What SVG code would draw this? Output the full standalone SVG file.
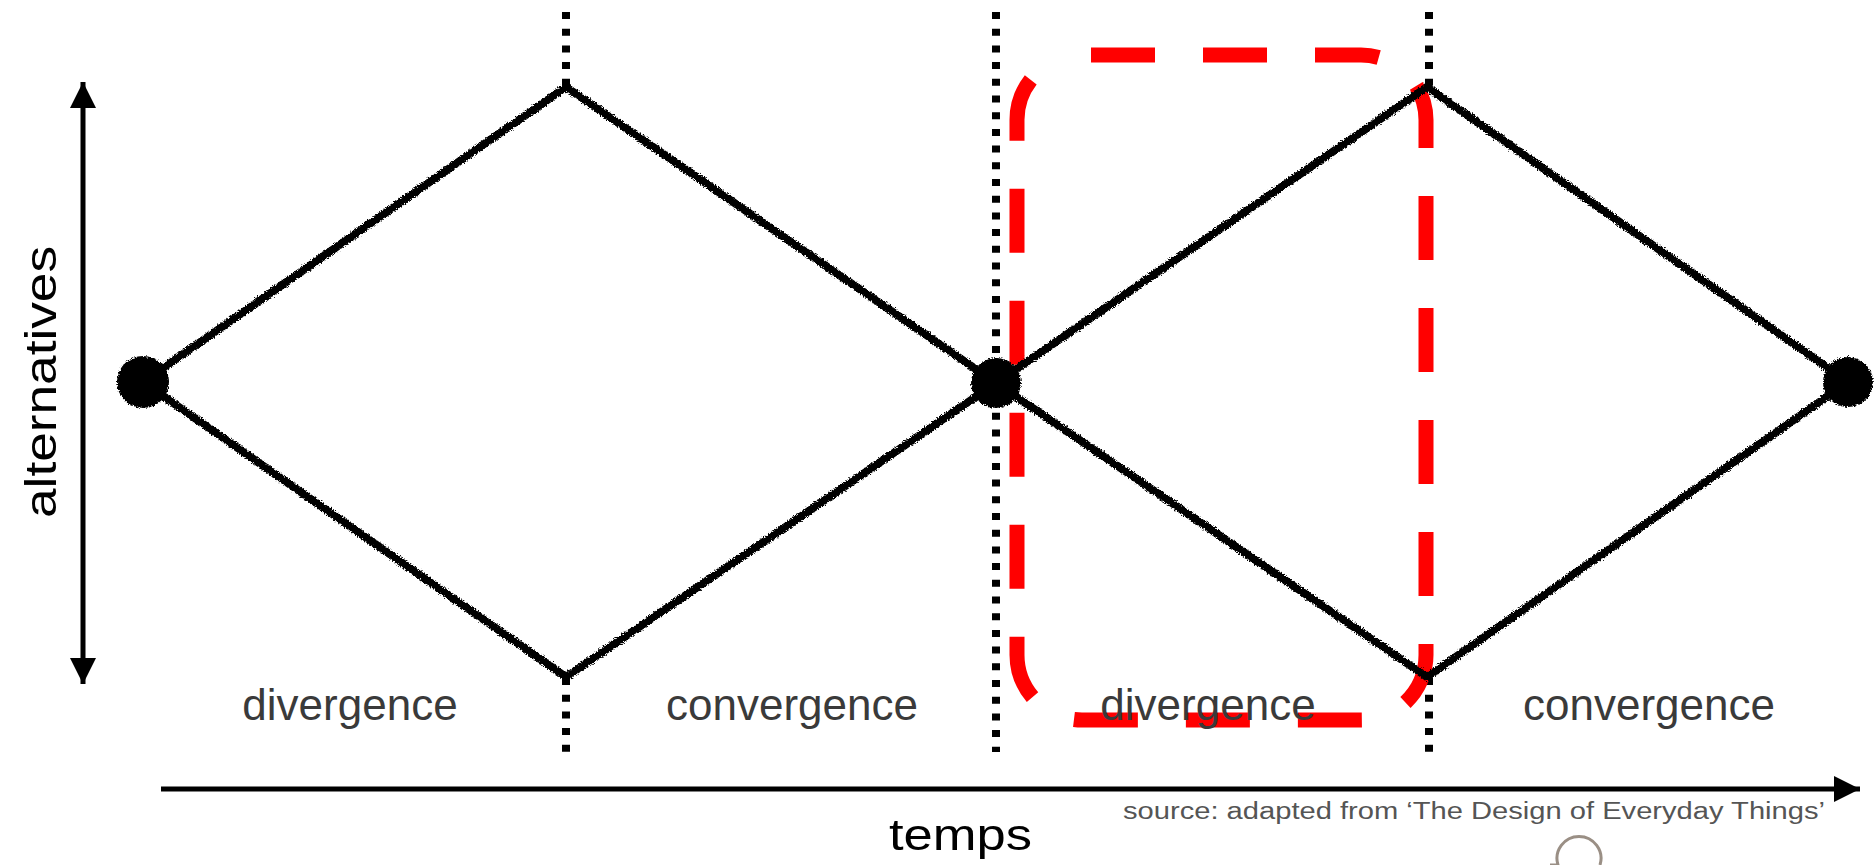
<svg xmlns="http://www.w3.org/2000/svg" width="1874" height="865" viewBox="0 0 1874 865">
  <style>
    .edge { stroke: #000; stroke-width: 8; fill: none; stroke-linecap: round; filter: url(#rough); }
    .dot { fill: #000; filter: url(#rough); }
    .dotted { stroke: #000; stroke-width: 8; stroke-dasharray: 7 9.7; fill: none; }
    .axis { stroke: #000; stroke-width: 5; fill: none; }
    .label { font-family: "Liberation Sans", Arial, sans-serif; font-size: 44px; fill: #3a3a3a; text-anchor: middle; }
    .big { font-family: "Liberation Sans", Arial, sans-serif; font-size: 44px; fill: #000; }
    .src { font-family: "Liberation Sans", Arial, sans-serif; font-size: 23px; fill: #555; }
    .hl { stroke: #ff0000; stroke-width: 15; fill: none; stroke-dasharray: 64 48; }
  </style>
  <defs>
    <filter id="rough" x="-10%" y="-10%" width="120%" height="120%">
      <feTurbulence type="fractalNoise" baseFrequency="0.7" numOctaves="2" seed="3" result="n"/>
      <feDisplacementMap in="SourceGraphic" in2="n" scale="5" xChannelSelector="R" yChannelSelector="G"/>
    </filter>
    <marker id="ah" markerUnits="userSpaceOnUse" markerWidth="30" markerHeight="28" refX="26" refY="13" orient="auto-start-reverse">
      <path d="M0,0 L26,13 L0,26 Z" fill="#000"/>
    </marker>
  </defs>
  <rect width="1874" height="865" fill="#fff"/>

  <g id="guides">
    <line class="dotted" x1="566" y1="12" x2="566" y2="87"/>
    <line class="dotted" x1="566" y1="678" x2="566" y2="752"/>
    <line class="dotted" x1="996" y1="12" x2="996" y2="752"/>
    <line class="dotted" x1="1429" y1="12" x2="1429" y2="87"/>
    <line class="dotted" x1="1429" y1="678" x2="1429" y2="752"/>
  </g>

  <g id="highlight">
    <path class="hl" d="M1091,55 H1361 A65,65 0 0 1 1426,120 V655 A65,65 0 0 1 1361,720 H1082 A65,65 0 0 1 1017,655 V120 A65,65 0 0 1 1044,67"/>
  </g>

  <g id="connectors">
    <line class="edge" x1="143" y1="382" x2="566" y2="87"/>
    <line class="edge" x1="566" y1="87" x2="996" y2="383"/>
    <line class="edge" x1="996" y1="383" x2="566" y2="677"/>
    <line class="edge" x1="566" y1="677" x2="143" y2="382"/>
    <line class="edge" x1="996" y1="383" x2="1427" y2="87"/>
    <line class="edge" x1="1427" y1="87" x2="1848" y2="382"/>
    <line class="edge" x1="1848" y1="382" x2="1427" y2="677"/>
    <line class="edge" x1="1427" y1="677" x2="996" y2="383"/>
  </g>

  <g id="node-start"><circle class="dot" cx="143" cy="382" r="26"/></g>
  <g id="node-middle"><circle class="dot" cx="996" cy="383" r="25"/></g>
  <g id="node-end"><circle class="dot" cx="1848" cy="382" r="25"/></g>

  <g id="axes">
    <line class="axis" x1="83" y1="82" x2="83" y2="684" marker-start="url(#ah)" marker-end="url(#ah)"/>
    <line class="axis" x1="161" y1="789" x2="1860" y2="789" marker-end="url(#ah)"/>
    <text class="big" transform="translate(56,382) rotate(-90)" text-anchor="middle" textLength="272" lengthAdjust="spacingAndGlyphs">alternatives</text>
    <text class="big" x="889" y="850" font-size="42" textLength="143" lengthAdjust="spacingAndGlyphs">temps</text>
  </g>

  <g id="labels">
    <text class="label" x="350" y="720">divergence</text>
    <text class="label" x="792" y="720">convergence</text>
    <text class="label" x="1208" y="720">divergence</text>
    <text class="label" x="1649" y="720">convergence</text>
  </g>

  <g id="source">
    <text class="src" x="1123" y="819" textLength="702" lengthAdjust="spacingAndGlyphs">source: adapted from ‘The Design of Everyday Things’</text>
    <path d="M1550 865 L1558 865 A22 22 0 1 1 1600 865" stroke="#9a8f85" stroke-width="3" fill="none"/>
  </g>
</svg>
